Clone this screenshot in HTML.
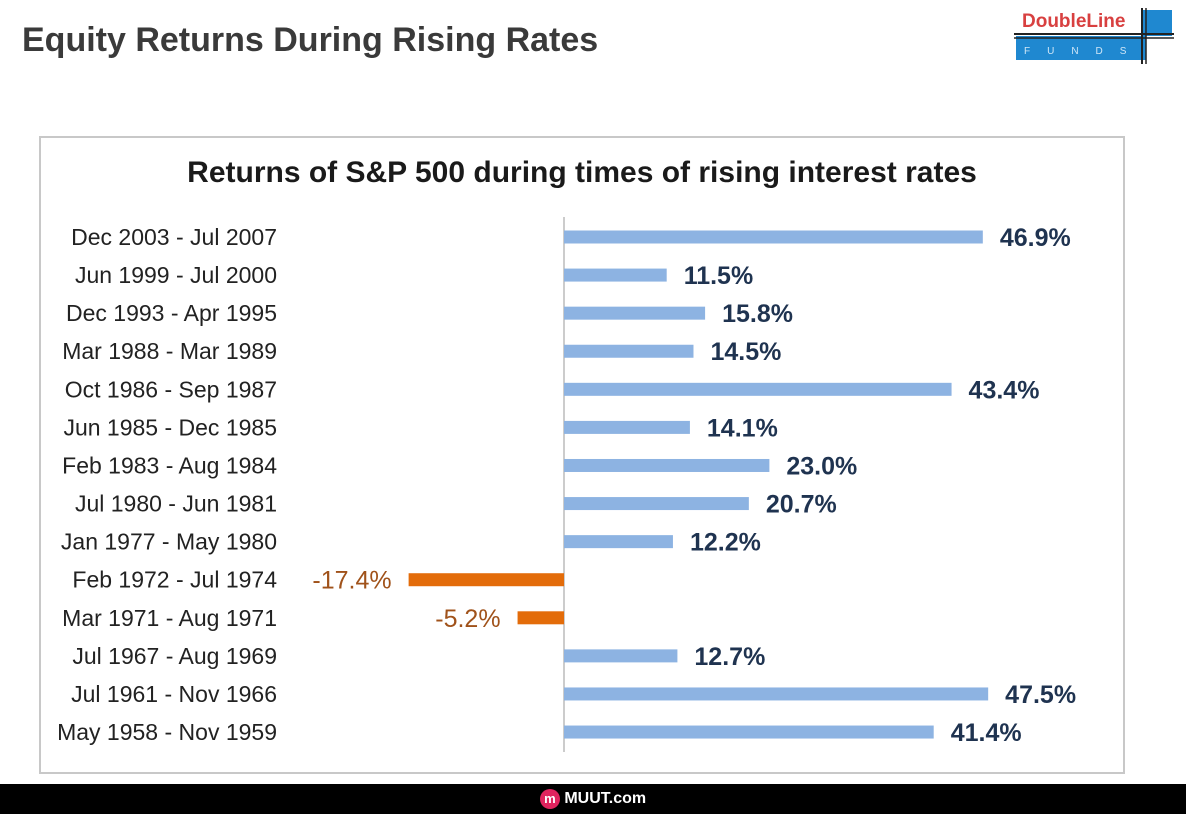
<!DOCTYPE html>
<html><head><meta charset="utf-8"><style>
body{margin:0;width:1186px;height:814px;background:#fff;position:relative;overflow:hidden;font-family:"Liberation Sans",sans-serif}
#title{position:absolute;left:22px;top:21px;font-size:34px;font-weight:bold;color:#3a3a3a}
#frame{position:absolute;left:39px;top:136px;width:1086px;height:638px;border:2px solid #c8c8c8;box-sizing:border-box}
#footer{position:absolute;left:0;top:784px;width:1186px;height:30px;background:#000;color:#fff;text-align:center;font-weight:bold;font-size:16px;line-height:30px}
</style></head><body>
<div id="title">Equity Returns During Rising Rates</div>
<svg style="position:absolute;left:1012px;top:4px" width="164" height="62">
<rect x="4" y="32" width="130" height="24" fill="#1f88d0"/>
<rect x="130" y="6" width="30" height="26" fill="#1f88d0"/>
<line x1="2" y1="30" x2="162" y2="30" stroke="#222" stroke-width="2"/>
<line x1="2" y1="34" x2="162" y2="34" stroke="#222" stroke-width="1.5"/>
<line x1="130" y1="4" x2="130" y2="60" stroke="#222" stroke-width="2"/>
<line x1="134" y1="4" x2="134" y2="60" stroke="#222" stroke-width="1.5"/>
<text x="10" y="23" font-size="19" font-weight="bold" fill="#d84040" font-family="Liberation Sans">DoubleLine</text>
<text x="12" y="50" font-size="10" fill="#cfe6f7" letter-spacing="17" font-family="Liberation Sans">FUNDS</text>
</svg>
<div id="frame"></div>
<svg id="chart" style="position:absolute;left:0;top:0" width="1186" height="784"></svg>
<div id="footer"><span style="display:inline-block;width:20px;height:20px;border-radius:50%;background:#e0245e;color:#fff;font-size:13px;line-height:20px;vertical-align:middle">m</span> MUUT.com</div>
<script>
const categories=["Dec 2003 - Jul 2007","Jun 1999 - Jul 2000","Dec 1993 - Apr 1995","Mar 1988 - Mar 1989","Oct 1986 - Sep 1987","Jun 1985 - Dec 1985","Feb 1983 - Aug 1984","Jul 1980 - Jun 1981","Jan 1977 - May 1980","Feb 1972 - Jul 1974","Mar 1971 - Aug 1971","Jul 1967 - Aug 1969","Jul 1961 - Nov 1966","May 1958 - Nov 1959"];
const values=[46.9,11.5,15.8,14.5,43.4,14.1,23.0,20.7,12.2,-17.4,-5.2,12.7,47.5,41.4];
const ns="http://www.w3.org/2000/svg";
const svg=document.getElementById("chart");
const x=v=>564+v*8.93;
const y=i=>237+i*38.08;
function mk(t,a){const e=document.createElementNS(ns,t);for(const k in a)e.setAttribute(k,a[k]);svg.appendChild(e);return e;}
const tt=mk("text",{x:582,y:182,"text-anchor":"middle","font-size":"30","font-weight":"bold",fill:"#1a1a1a","font-family":"Liberation Sans"});
tt.textContent="Returns of S&P 500 during times of rising interest rates";


const ax=mk("line",{x1:564,x2:564,y1:y(0)-20,y2:y(13)+20,stroke:"#999","stroke-width":1});


categories.forEach((c,i)=>{
  const v=values[i],neg=v<0;
  const lb=mk("text",{x:277,y:y(i)+8,"text-anchor":"end","font-size":"23",fill:"#222","font-family":"Liberation Sans"});
  lb.textContent=c;
  
  
  const b=mk("rect",{x:Math.min(x(0),x(v)),y:y(i)-6.5,width:Math.abs(x(v)-x(0)),height:13,fill:neg?"#e36c0a":"#8db3e2"});
  
  
  const vl=mk("text",{x:neg?x(v)-17:x(v)+17,y:y(i)+9,"text-anchor":neg?"end":"start","font-size":"25","font-weight":neg?"normal":"bold",fill:neg?"#a0521a":"#1f3350","font-family":"Liberation Sans"});
  vl.textContent=v.toFixed(1)+"%";
  
  
});
</script>
</body></html>
